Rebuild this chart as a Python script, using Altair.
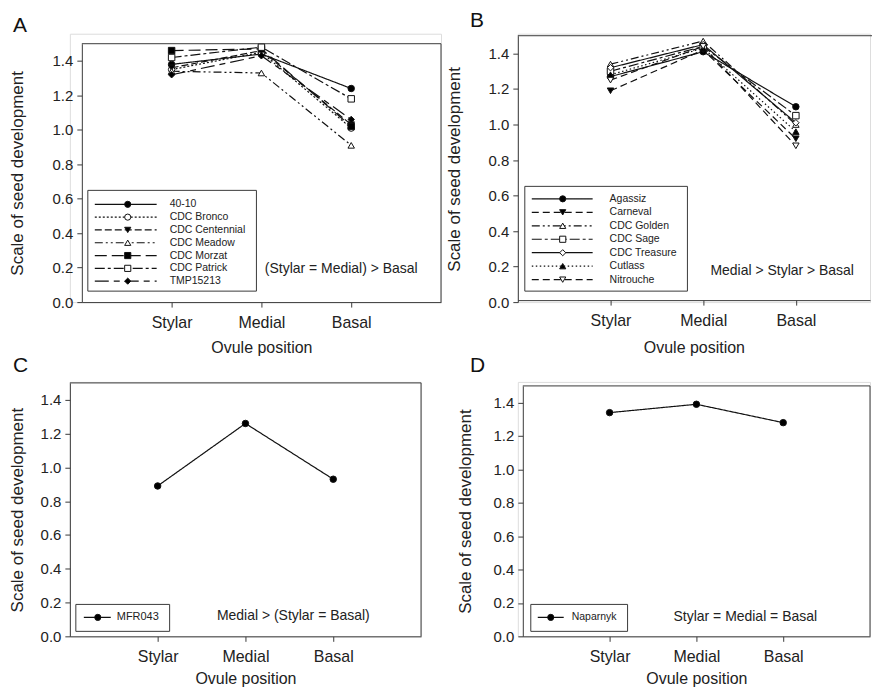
import altair as alt
import pandas as pd

FONT = "Liberation Sans"
INK = "#111111"
AXC = "#3a3a3a"

positions = ["Stylar", "Medial", "Basal"]
pos_index = [1, 2, 3]
y_ticks = [0.0, 0.2, 0.4, 0.6, 0.8, 1.0, 1.2, 1.4]

# Panel A
a_names = ["40-10", "CDC Bronco", "CDC Centennial", "CDC Meadow", "CDC Morzat", "CDC Patrick", "TMP15213"]
a_stylar = [1.38, 1.35, 1.36, 1.34, 1.46, 1.42, 1.32]
a_medial = [1.44, 1.45, 1.46, 1.33, 1.47, 1.48, 1.43]
a_basal = [1.24, 1.01, 1.03, 0.91, 1.02, 1.18, 1.06]
a_shapes = ["circle", "circle", "triangle-down", "triangle-up", "square", "square", "diamond"]
a_fills = ["black", "white", "black", "white", "black", "white", "black"]
a_dashes = [[1, 0], [2, 2], [7, 3], [8, 3, 2, 3, 2, 3], [12, 5], [10, 3, 3, 3], [14, 5, 6, 5]]
a_note = "(Stylar = Medial) > Basal"

# Panel B
b_names = ["Agassiz", "Carneval", "CDC Golden", "CDC Sage", "CDC Treasure", "Cutlass", "Nitrouche"]
b_stylar = [1.27, 1.19, 1.34, 1.30, 1.32, 1.28, 1.25]
b_medial = [1.41, 1.42, 1.47, 1.44, 1.45, 1.43, 1.44]
b_basal = [1.10, 0.92, 1.00, 1.05, 1.01, 0.96, 0.88]
b_shapes = ["circle", "triangle-down", "triangle-up", "square", "diamond", "triangle-up", "triangle-down"]
b_fills = ["black", "black", "white", "white", "white", "black", "white"]
b_dashes = [[1, 0], [7, 4], [8, 3, 2, 3, 2, 3], [10, 3, 3, 3], [1, 0], [1.5, 2.5], [7, 4]]
b_note = "Medial > Stylar > Basal"

# Panel C
c_names = ["MFR043"]
c_stylar = [0.89]
c_medial = [1.26]
c_basal = [0.93]
c_note = "Medial > (Stylar = Basal)"

# Panel D
d_names = ["Naparnyk"]
d_stylar = [1.34]
d_medial = [1.39]
d_basal = [1.28]
d_note = "Stylar = Medial = Basal"

label_expr = " : ".join(
    f"datum.value == {i} ? '{n}'" for i, n in zip(pos_index[:-1], positions[:-1])
) + f" : '{positions[-1]}'"


def make_panel(names, stylar, medial, basal, shapes, fills, dashes, note, letter, g):
    rows = []
    for i, n in enumerate(names):
        for p, v in zip(pos_index, (stylar[i], medial[i], basal[i])):
            rows.append({"name": n, "pos": p, "value": v})
    df = pd.DataFrame(rows)
    leg = pd.DataFrame({"name": names})
    W, H = g["w"], g["h"]
    fx0, fx1 = g["xr"]          # frame left / right inside the view
    fy1, fy0 = g["yr"]          # frame bottom / top inside the view

    dash_scale = alt.Scale(domain=names, range=dashes)
    shape_scale = alt.Scale(domain=names, range=shapes)
    fill_scale = alt.Scale(domain=names, range=fills)

    x = alt.X("pos:Q", scale=alt.Scale(domain=[0, g["xmax"]], nice=False, zero=False, range=[fx0, fx1]),
              axis=alt.Axis(values=pos_index, labelExpr=label_expr, title="Ovule position",
                            grid=False, tickSize=5, labelPadding=7, labelFontSize=16,
                            titleFontSize=16, titleY=g["xt"] - 9, titleBaseline="top",
                            offset=g.get("xoff", 0),
                            labelColor="#222", titleColor="#222", titleFontWeight="normal",
                            domainColor=AXC, tickColor=AXC, labelFont=FONT, titleFont=FONT))
    y = alt.Y("value:Q", scale=alt.Scale(domain=[0, 1.5], nice=False, range=[fy1, fy0]),
              axis=alt.Axis(values=y_ticks, format=".1f", title="Scale of seed development",
                            grid=False, tickSize=5, labelPadding=4, labelFontSize=15,
                            titleFontSize=17, titleX=g["yt"], titleY=(fy0 + fy1) / 2,
                            titleBaseline="middle", titleAlign="center", titleAngle=270,
                            offset=-fx0,
                            labelColor="#222", titleColor="#222", titleFontWeight="normal",
                            domainColor=AXC, tickColor=AXC, labelFont=FONT, titleFont=FONT))

    lines = alt.Chart(df).mark_line(color=INK, strokeWidth=1.2).encode(
        x=x, y=y, detail="name:N", order="pos:Q",
        strokeDash=alt.StrokeDash("name:N", scale=dash_scale, legend=None))
    pts = alt.Chart(df).mark_point(filled=True, size=42, stroke=INK, strokeWidth=1, opacity=1).encode(
        x=x, y=y,
        shape=alt.Shape("name:N", scale=shape_scale, legend=None),
        fill=alt.Fill("name:N", scale=fill_scale, legend=None))
    main = alt.layer(lines, pts)

    one = pd.DataFrame({"t": [letter]})
    layers = []
    if g.get("anchor"):
        ax, ay = g["anchor"]
        layers.append(alt.Chart(one).mark_rect(opacity=0).encode(
            x=alt.value(ax), x2=alt.value(ax + 20), y=alt.value(ay), y2=alt.value(ay + 20)))

    # frame: top edge and (unless open) right edge
    top = alt.Chart(one).mark_rule(color=AXC, strokeWidth=1).encode(
        x=alt.value(fx0), x2=alt.value(fx1 + (2 if g.get("open_right") else 0)), y=alt.value(fy0))
    frame = [top]
    if not g.get("open_right"):
        frame.append(alt.Chart(one).mark_rule(color=AXC, strokeWidth=1).encode(
            x=alt.value(fx1), y=alt.value(fy0), y2=alt.value(fy1 + g.get("xoff", 0))))

    bx = g["box"]
    box = alt.Chart(one).mark_rect(fill="white", stroke=AXC, strokeWidth=1).encode(
        x=alt.value(bx[0]), x2=alt.value(bx[1]), y=alt.value(bx[2]), y2=alt.value(bx[3]))

    ly = alt.Y("name:N", scale=alt.Scale(type="point", domain=names, range=g["rows"], padding=0),
               axis=None)
    lg = g["leg"]
    leg_lines = alt.Chart(leg).mark_rule(color=INK, strokeWidth=1.2).encode(
        x=alt.value(lg[0]), x2=alt.value(lg[1]), y=ly,
        strokeDash=alt.StrokeDash("name:N", scale=dash_scale, legend=None))
    leg_pts = alt.Chart(leg).mark_point(filled=True, size=38, stroke=INK, strokeWidth=1, opacity=1).encode(
        x=alt.value(lg[2]), y=ly,
        shape=alt.Shape("name:N", scale=shape_scale, legend=None),
        fill=alt.Fill("name:N", scale=fill_scale, legend=None))
    leg_txt = alt.Chart(leg).mark_text(align="left", baseline="middle", font=FONT,
                                       fontSize=g["lfs"], color="#222").encode(
        x=alt.value(lg[3]), y=ly, text="name:N")
    legend = alt.layer(leg_lines, leg_pts, leg_txt)

    note_c = alt.Chart(pd.DataFrame({"t": [note]})).mark_text(
        align="center", baseline="middle", font=FONT, fontSize=14, color="#222").encode(
        x=alt.value(g["note"][0]), y=alt.value(g["note"][1]), text="t:N")
    letter_c = alt.Chart(one).mark_text(
        align="left", baseline="top", font=FONT, fontSize=21, color="#111").encode(
        x=alt.value(g["letter"][0]), y=alt.value(g["letter"][1]), text="t:N")

    layers += [main] + frame + [box, legend, note_c, letter_c]
    return alt.layer(*layers).resolve_scale(y="independent").properties(width=W, height=H)


# view cells (page px): col0 x=69, col1 x=518; row0 y=32, row1 y=381
gA = dict(w=372, h=269, xr=(12, 372), yr=(269, 10), xmax=4, xt=47, yt=-64,
          box=(18, 187, 157, 258), rows=[171, 248], leg=(25, 87, 58, 100), lfs=10.5,
          note=(272, 236), letter=(-57, -19), anchor=(-61, -24))
gB = dict(w=353, h=269, xr=(0, 353), yr=(269, 2), xmax=3.8, xt=49, yt=-63, xoff=-2,
          box=(7, 170, 153, 258), rows=[165.5, 246.5], leg=(14, 75, 45, 92), lfs=10.5,
          note=(265, 238), letter=(-48, -24), open_right=True)
gC = dict(w=352, h=255, xr=(0, 352), yr=(255, 1), xmax=4, xt=43, yt=-52,
          box=(6, 100, 223, 250), rows=[236, 236], leg=(14, 41, 28, 47), lfs=11,
          note=(224, 235), letter=(-57, -27))
gD = dict(w=353, h=255, xr=(5, 353), yr=(255, 4), xmax=4, xt=43, yt=-57,
          box=(13, 110, 223, 250), rows=[236, 236], leg=(20, 46, 33, 54), lfs=10.5,
          note=(228, 236), letter=(-48, -27))

pA = make_panel(a_names, a_stylar, a_medial, a_basal, a_shapes, a_fills, a_dashes, a_note, "A", gA)
pB = make_panel(b_names, b_stylar, b_medial, b_basal, b_shapes, b_fills, b_dashes, b_note, "B", gB)
pC = make_panel(c_names, c_stylar, c_medial, c_basal, ["circle"], ["black"], [[1, 0]], c_note, "C", gC)
pD = make_panel(d_names, d_stylar, d_medial, d_basal, ["circle"], ["black"], [[1, 0]], d_note, "D", gD)

chart = alt.concat(
    pA, pB, pC, pD, columns=2, align="all", bounds="flush",
    spacing=alt.RowColnumber(row=80, column=77),
).resolve_scale(
    shape="independent", fill="independent", strokeDash="independent"
).properties(padding=0).configure_view(stroke=None).configure(font=FONT)

chart.save("out.html", embed_options={"renderer": "svg", "actions": False})
